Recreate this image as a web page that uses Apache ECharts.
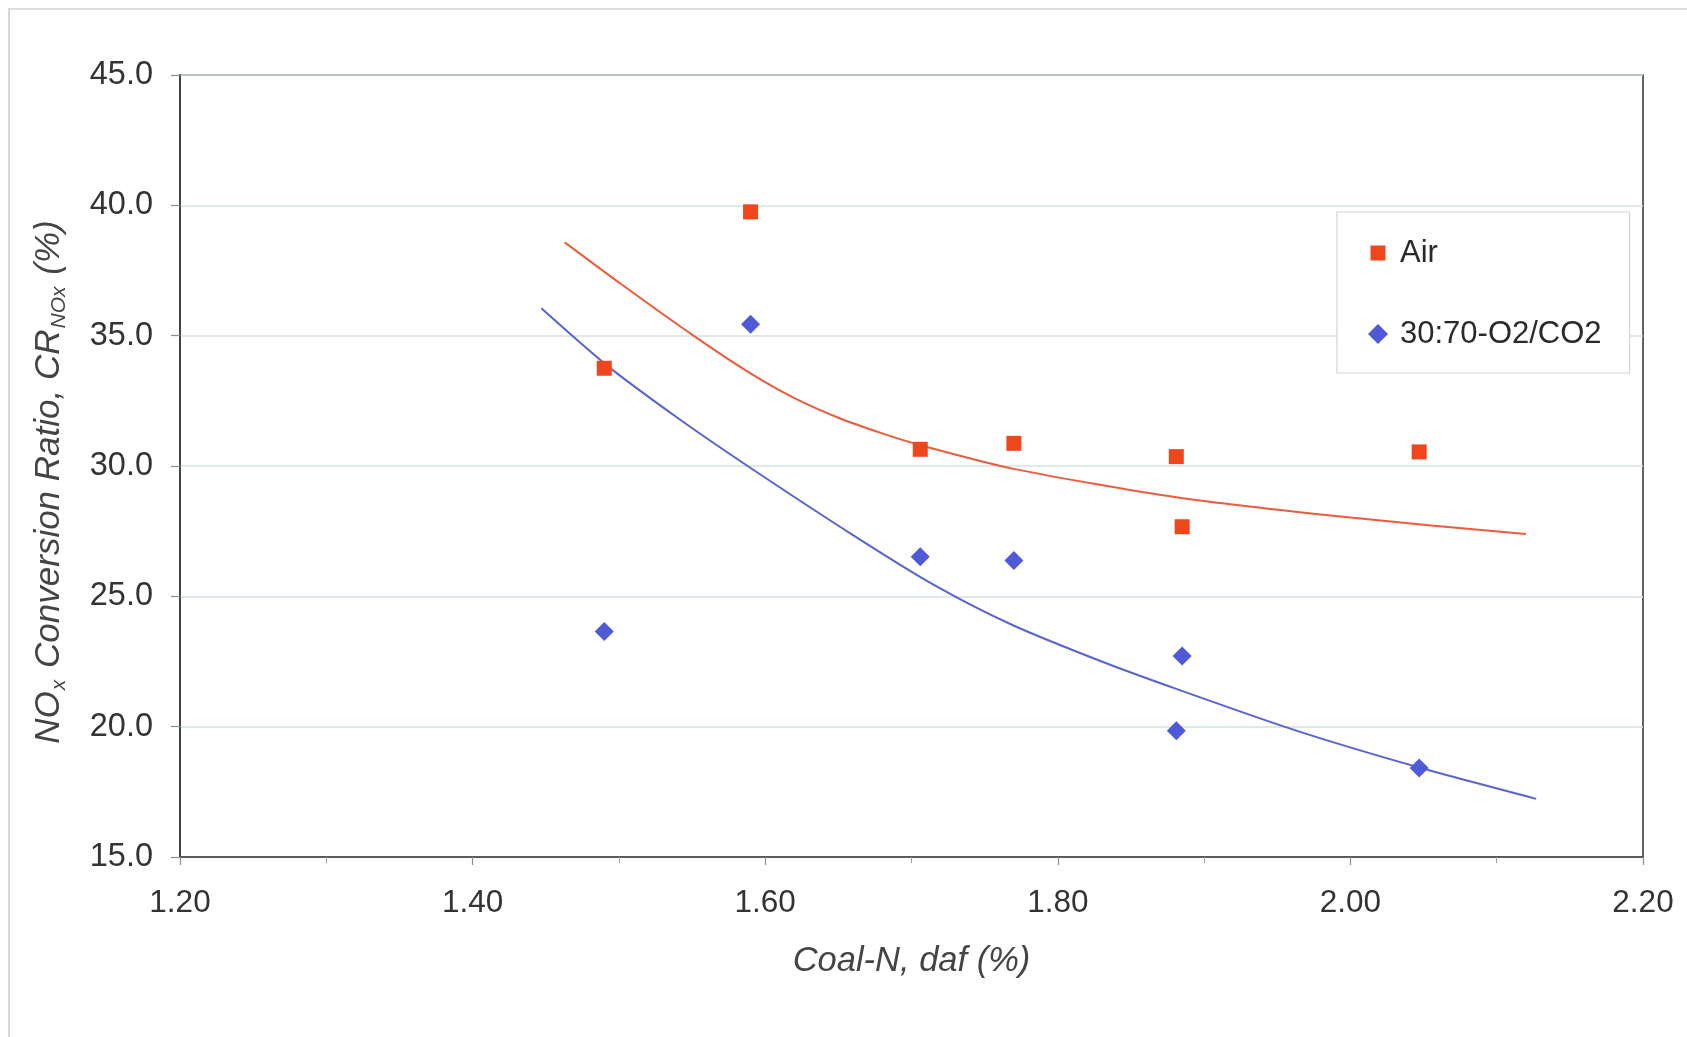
<!DOCTYPE html>
<html>
<head>
<meta charset="utf-8">
<script src="https://cdn.jsdelivr.net/npm/echarts@6/dist/echarts.min.js"></script>
<style>
  html, body { margin: 0; padding: 0; background: #ffffff; }
  #frame { position: absolute; left: 8px; top: 8px; width: 1700px; height: 1100px;
           border-left: 2px solid #d6d9d9; border-top: 2px solid #dcdede; }
  #chart { position: absolute; left: 0; top: 0; width: 1687px; height: 1037px; }
</style>
</head>
<body>
<div id="frame"></div>
<div id="chart"></div>
<script>
// ---- data ----
const coalN = [1.49, 1.59, 1.706, 1.77, 1.881, 1.885, 2.047];
const airCR = [33.75, 39.75, 30.64, 30.87, 30.36, 27.67, 30.54];
const oxyCR = [23.65, 35.44, 26.52, 26.37, 19.84, 22.71, 18.41];

// trend lines
const airTrendX = [1.463, 1.501, 1.551, 1.590, 1.620, 1.650, 1.680, 1.706, 1.769, 1.881, 2.000, 2.120];
const airTrendY = [38.58, 37.0, 35.0, 33.55, 32.6, 31.85, 31.25, 30.8, 29.9, 28.8, 28.02, 27.39];
const oxyTrendX = [1.447, 1.492, 1.540, 1.588, 1.660, 1.715, 1.769, 1.830, 1.881, 1.963, 2.046, 2.127];
const oxyTrendY = [36.05, 33.85, 31.85, 30.0, 27.35, 25.45, 23.9, 22.5, 21.45, 19.85, 18.45, 17.23];

const seriesNames = ['Air', '30:70-O2/CO2'];
const xAxisTitle = 'Coal-N, daf (%)';

const FONT = '"Liberation Sans", Arial, sans-serif';
const zip = (a, b) => a.map((v, i) => [v, b[i]]);

const chart = echarts.init(document.getElementById('chart'), null, { renderer: 'canvas' });
chart.setOption({
  animation: false,
  backgroundColor: 'transparent',
  grid: {
    left: 180, right: 44, top: 75, bottom: 180,
    show: true, borderColor: '#3a3d3d', borderWidth: 1.6, backgroundColor: 'transparent'
  },
  legend: {
    orient: 'vertical',
    left: 1337, top: 212,
    padding: [21, 28, 19, 31],
    itemWidth: 20, itemHeight: 20, itemGap: 41,
    borderColor: '#d2d6d6', borderWidth: 1.2, borderRadius: 0,
    backgroundColor: '#ffffff',
    data: [
      { name: seriesNames[0], icon: 'path://M0,0M20,20M2.5,2.5h15v15h-15z' },
      { name: seriesNames[1], icon: 'diamond' }
    ],
    textStyle: { fontFamily: FONT, fontSize: 31, color: '#2a2a2a', lineHeight: 40, padding: [0, 0, 0, 7] }
  },
  xAxis: {
    type: 'value',
    min: 1.2, max: 2.2, interval: 0.2,
    name: xAxisTitle,
    nameLocation: 'middle', nameGap: 87,
    nameTextStyle: { fontFamily: FONT, fontSize: 34.5, fontStyle: 'italic', color: '#444' },
    axisLine: { show: true, lineStyle: { color: '#3a3d3d', width: 1.6 } },
    axisTick: { show: true, length: 8, lineStyle: { color: '#8a8f8f', width: 1.2 } },
    minorTick: { show: true, splitNumber: 2, length: 6, lineStyle: { color: '#9a9f9f', width: 1 } },
    axisLabel: { fontFamily: FONT, fontSize: 31.5, color: '#333', margin: 30,
                 formatter: v => v.toFixed(2) },
    splitLine: { show: false }
  },
  yAxis: {
    type: 'value',
    min: 15, max: 45, interval: 5,
    name: '{a|NO}{b|x}{a| Conversion Ratio, CR}{b|NOx}{c| (%)}',
    nameLocation: 'middle', nameGap: 110,
    nameTextStyle: {
      rich: {
        a: { fontFamily: FONT, fontSize: 35, fontStyle: 'italic', color: '#444', lineHeight: 42 },
        b: { fontFamily: FONT, fontSize: 21, fontStyle: 'italic', color: '#444', lineHeight: 22,
             verticalAlign: 'bottom', padding: [0, 2, 0, 1] },
        c: { fontFamily: FONT, fontSize: 35, fontStyle: 'italic', color: '#444', lineHeight: 42,
             padding: [0, 32, 0, 0] }
      }
    },
    axisLine: { show: true, lineStyle: { color: '#3a3d3d', width: 1.6 } },
    axisTick: { show: true, length: 9, lineStyle: { color: '#8a8f8f', width: 1.2 } },
    axisLabel: { fontFamily: FONT, fontSize: 32.5, color: '#333', margin: 27,
                 formatter: v => v.toFixed(1) },
    splitLine: { show: true, lineStyle: { color: '#d6e0e0', width: 1.5 } }
  },
  series: [
    {
      name: seriesNames[0], type: 'scatter',
      symbol: 'rect', symbolSize: 15,
      itemStyle: { color: '#f0461c', opacity: 1 },
      data: zip(coalN, airCR), z: 5
    },
    {
      name: seriesNames[1], type: 'scatter',
      symbol: 'diamond', symbolSize: 19,
      itemStyle: { color: '#4f5ad9', opacity: 1 },
      data: zip(coalN, oxyCR), z: 5
    },
    {
      name: 'Air trend', type: 'line', smooth: 0.25,
      showSymbol: false, silent: true,
      lineStyle: { color: '#ec5b3c', width: 2 },
      data: zip(airTrendX, airTrendY), z: 3
    },
    {
      name: 'O2/CO2 trend', type: 'line', smooth: 0.25,
      showSymbol: false, silent: true,
      lineStyle: { color: '#5864d2', width: 2 },
      data: zip(oxyTrendX, oxyTrendY), z: 3
    }
  ]
});
</script>
</body>
</html>
